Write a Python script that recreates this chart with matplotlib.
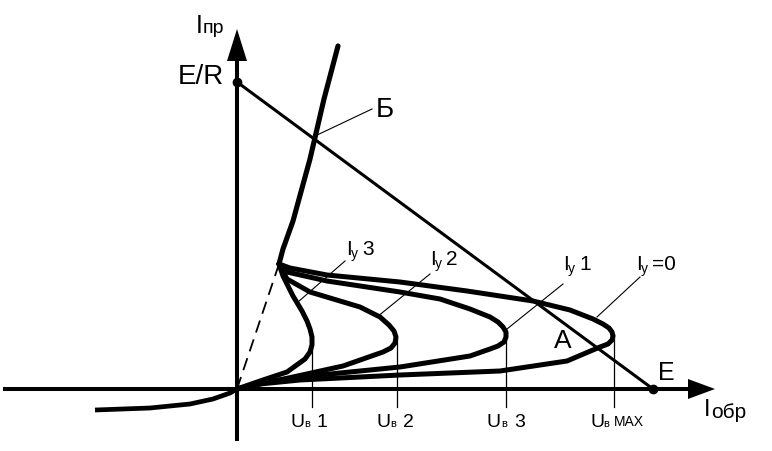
import matplotlib
matplotlib.use("Agg")
import matplotlib.pyplot as plt
from matplotlib.patches import Polygon

# ---------------- data (chart units: origin at axis crossing, x right, y up) ----------------
# on-state (forward conducting) branch
on_x = [42, 46, 56, 73, 87, 101]
on_y = [125, 140, 168, 230, 290, 343]

# reverse branch
rev_x = [-142, -87, -47, -24, -7, 0]
rev_y = [-21, -19, -15, -10, -4, 0]

# dashed line origin -> knee
dash_x = [0, 42]
dash_y = [0, 125]

# Iy = 0 curve (knee -> nose -> origin)
iy0_x = [42, 53, 90, 163, 230, 296, 333, 356, 366, 372, 375, 376, 375, 371, 363, 330, 263, 163, 63, 23, 0]
iy0_y = [125, 121, 114, 107, 98, 88, 79, 70, 65, 61, 57, 53, 49, 45, 42, 28, 18, 14, 9, 5, 0]

# Iy 1 curve
iy1_x = [42, 50, 90, 163, 203, 233, 253, 261, 266, 269, 269, 267, 261, 253, 233, 163, 63, 23, 0]
iy1_y = [125, 117, 108, 97, 90, 80, 72, 67, 62, 57, 52, 47, 43, 40, 33, 22, 12, 6, 0]

# Iy 2 curve
iy2_x = [42, 50, 73, 123, 143, 152, 157, 159, 158, 154, 146, 106, 56, 23, 0]
iy2_y = [125, 110, 97, 82, 72, 64, 58, 52, 46, 41, 37, 23, 12, 5, 0]

# Iy 3 curve
iy3_x = [42, 46, 56, 65, 70, 73, 75, 75, 73, 68, 50, 23, 0]
iy3_y = [125, 113, 93, 78, 68, 60, 52, 44, 37, 30, 17, 8, 0]

# load line E/R -> E
load_x = [0, 416]
load_y = [307, 0]

# U_v markers (x positions of noses and their heights)
uv_x = [75, 159.5, 269, 377]
uv_top = [45, 50, 55, 55]
uv_labels = ["1", "2", "3", "MAX"]

# ---------------- figure ----------------
fig = plt.figure(figsize=(7.72, 4.52), dpi=100)
ax = fig.add_axes([0, 0, 1, 1])
ax.set_xlim(-237, 535)
ax.set_ylim(-62, 390)
ax.axis("off")

FONT = "Liberation Sans"
K = "black"

def px_x(v):
    return v - 237

def px_y(v):
    return 390 - v

# axes lines
ax.plot([-234, 455], [0, 0], color=K, lw=2.9, solid_capstyle="butt")
ax.plot([0, 0], [-52, 330], color=K, lw=2.9, solid_capstyle="butt")
ax.add_patch(Polygon([[451, 10], [478, 0], [451, -10]], closed=True, color=K, lw=0))
ax.add_patch(Polygon([[-10, 328], [0, 360], [10, 328]], closed=True, color=K, lw=0))

# load line and dots
ax.plot(load_x, load_y, color=K, lw=2.2)
ax.plot(load_x, load_y, "o", color=K, ms=6)

# curves
ax.plot(on_x, on_y, color=K, lw=3.7, solid_capstyle="round", solid_joinstyle="round")
ax.plot(rev_x, rev_y, color=K, lw=3.4, solid_capstyle="butt", solid_joinstyle="round")
ax.plot(dash_x, dash_y, color=K, lw=1.3, dashes=(7, 4))
for cx, cy in [(iy0_x, iy0_y), (iy1_x, iy1_y), (iy2_x, iy2_y), (iy3_x, iy3_y)]:
    ax.plot(cx, cy, color=K, lw=3.6, solid_capstyle="round", solid_joinstyle="round")

# U_v vertical lines
for x, t in zip(uv_x, uv_top):
    ax.plot([x, x], [t, -18], color=K, lw=0.9)

# leader lines
leaders = [
    ((315, 137), (372, 110)),   # Б
    ((298, 303), (345, 262)),   # Iy3
    ((377, 318), (430, 275)),   # Iy2
    ((507, 330), (563, 285)),   # Iy1
    ((597, 318), (640, 278)),   # Iy0
]
for (x1, y1), (x2, y2) in leaders:
    ax.plot([px_x(x1), px_x(x2)], [px_y(y1), px_y(y2)], color=K, lw=0.8)

def txt(x, y, s, size, ha="left"):
    ax.text(px_x(x), px_y(y), s, fontsize=size, family=FONT, color=K,
            ha=ha, va="baseline")

# axis labels
txt(196, 33, "I", 18)
txt(203, 33, "пр", 14)
txt(704, 416, "I", 17)
txt(711, 418, "обр", 15)

# point labels
txt(224, 84, "E/R", 20, ha="right")
txt(376, 117, "Б", 20)
txt(563, 348, "A", 19, ha="center")
txt(658, 380, "E", 18)

# Iy labels
iy_lab = [(346, 255, "3"), (430, 265, "2"), (563, 270, "1"), (636, 270, "=0")]
for x, y, s in iy_lab:
    txt(x, y, "I", 15)
    txt(x + 5, y + 3, "y", 10)
    txt(x + 16, y, s, 15)

# Uv labels
uv_left = [290, 376, 487, 590]
for x, s in zip(uv_left, uv_labels):
    txt(x, 427, "U", 14)
    if s == "MAX":
        txt(x + 13, 427, "в", 8)
        txt(x + 24, 426, s, 10)
    else:
        txt(x + 14, 427, "в", 8)
        txt(x + 27, 427, s, 14)

fig.savefig("out.png", dpi=100)
